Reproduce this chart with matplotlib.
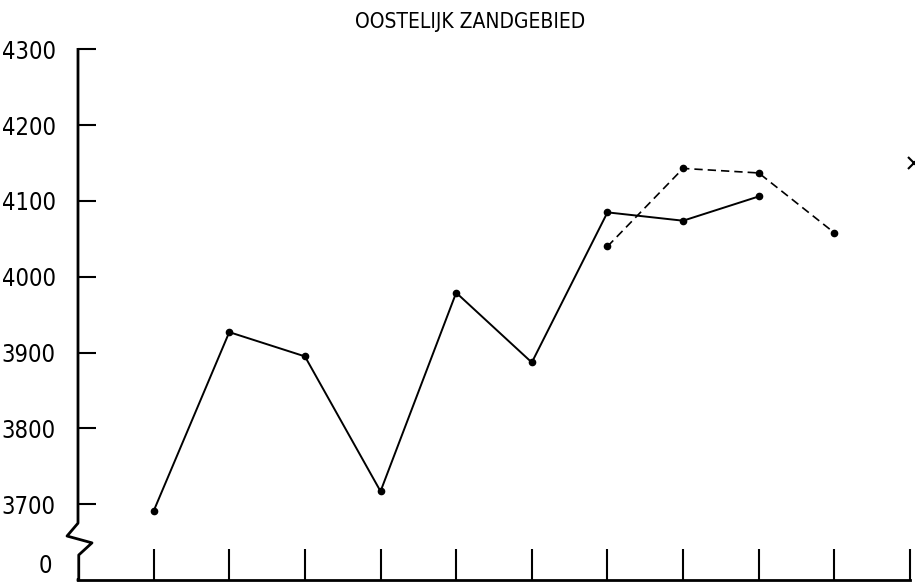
import numpy as np
import matplotlib.pyplot as plt

# jaarlijkse waarden, oostelijk zandgebied
jaar_idx = [1, 2, 3, 4, 5, 6, 7, 8, 9]
waarde = [3691, 3927, 3895, 3717, 3979, 3887, 4085, 4074, 4106]

# tweede reeks (gestreept)
jaar_idx2 = [7, 8, 9, 10]
waarde2 = [4040, 4143, 4137, 4058]

y_ticks = [3700, 3800, 3900, 4000, 4100, 4200, 4300]
x_ticks = [1, 2, 3, 4, 5, 6, 7, 8, 9, 10, 11]

plt.rcParams['font.family'] = ['DejaVu Sans']
plt.rcParams['font.stretch'] = 'condensed'

fig = plt.figure(figsize=(9.15, 5.83), dpi=100)
ax = fig.add_axes([78 / 915, 3 / 583, 832 / 915, 580 / 583])
ax.set_xlim(0, 11)
ax.set_ylim(3600, 3600 + 580 / 0.758)

ax.plot(jaar_idx, waarde, color='black', lw=1.4, marker='o', ms=4.5)
ax.plot(jaar_idx2, waarde2, color='black', lw=1.2, ls=(0, (5, 3)), marker='o', ms=4.5)
ax.plot([11.05], [4150], marker='x', color='black', ms=8, mew=1.5, clip_on=False)

# y-as met onderbreking
ax.spines['left'].set_visible(False)
ax.spines['top'].set_visible(False)
ax.spines['right'].set_visible(False)
bx = [0, 0, -0.145, 0.185, 0.01, 0.01, 0]
by = [4300, 3675, 3658, 3649, 3633, 3600, 3600]
ax.plot(bx, by, color='black', lw=2, clip_on=False)
ax.spines['bottom'].set_linewidth(2)

ax.set_yticks(y_ticks)
ax.set_yticklabels([str(v) for v in y_ticks], fontsize=17)
ax.tick_params(axis='y', direction='in', length=13, width=1.5, pad=16)
ax.text(-0.34, 3618, '0', fontsize=17, ha='right', va='center')

ax.set_xticks(x_ticks)
ax.set_xticklabels([])
ax.tick_params(axis='x', direction='in', length=22, width=1.5)

fig.text(470 / 915, 1 - 22 / 583, 'OOSTELIJK ZANDGEBIED', fontsize=15,
         ha='center', va='center')

fig.savefig('out.png', dpi=100)
